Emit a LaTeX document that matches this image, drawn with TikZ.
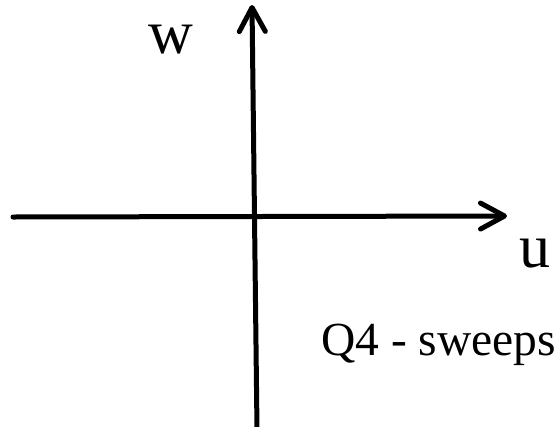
\documentclass[tikz,border=0pt]{standalone}
\usepackage{fontspec}
\setmainfont{Liberation Serif}
\usetikzlibrary{arrows.meta}
\begin{document}
\begin{tikzpicture}[x=1pt,y=-1pt,
  axis/.style={line width=5pt, line cap=round,
    -{Straight Barb[length=24pt,width=26pt,line cap=round,line join=round]}},
  biglabel/.style={font=\fontsize{62}{62}\selectfont, inner sep=0pt, anchor=base},
  notelabel/.style={font=\fontsize{47.5}{48}\selectfont, inner sep=0pt, anchor=base west}]
\useasboundingbox (0,0) rectangle (559,426);
\coordinate (hl) at (13,217);
\coordinate (hr) at (507,216);
\coordinate (vb) at (257,430);
\coordinate (vt) at (252,5);
\draw[axis] (hl) -- (hr);
\draw[axis] (vb) -- (vt);
\node[biglabel] (w) at (171,53) {w};
\node[biglabel] (u) at (535,267) {u};
\node[notelabel] (q4) at (321,355) {Q4 - sweeps};
\end{tikzpicture}
\end{document}
